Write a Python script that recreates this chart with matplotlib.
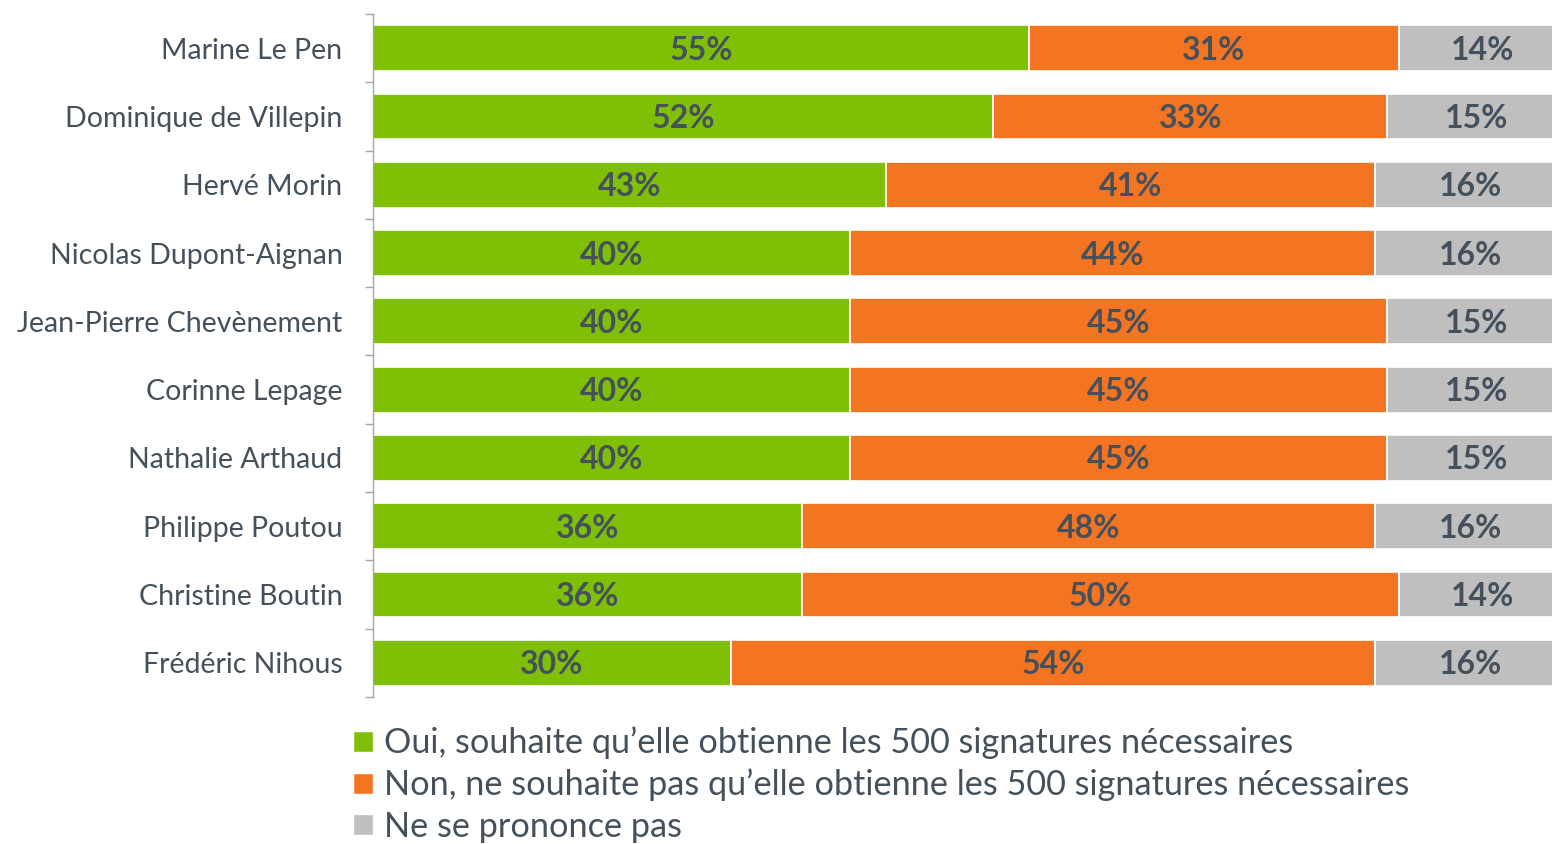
import numpy as np
import matplotlib
matplotlib.use("Agg")
import matplotlib.pyplot as plt
from matplotlib.patches import Patch

candidates = ["Marine Le Pen", "Dominique de Villepin", "Hervé Morin",
              "Nicolas Dupont-Aignan", "Jean-Pierre Chevènement", "Corinne Lepage",
              "Nathalie Arthaud", "Philippe Poutou", "Christine Boutin", "Frédéric Nihous"]
oui = [55, 52, 43, 40, 40, 40, 40, 36, 36, 30]
non = [31, 33, 41, 44, 45, 45, 45, 48, 50, 54]
nsp = [14, 15, 16, 16, 15, 15, 15, 16, 14, 16]
series_labels = ["Oui, souhaite qu\u2019elle obtienne les 500 signatures nécessaires",
                 "Non, ne souhaite pas qu\u2019elle obtienne les 500 signatures nécessaires",
                 "Ne se prononce pas"]
colors = ["#7fbf06", "#f47521", "#bfbfbf"]
TXT = "#44505c"

plt.rcParams["font.family"] = ["Lato", "DejaVu Sans"]

fig = plt.figure(figsize=(15.52, 8.44), dpi=100)
# the 100% end sits slightly past the right edge of the picture (cropped)
ax = fig.add_axes([0.2403, 0.1742, 0.7687, 0.8092])

y = np.arange(len(candidates))
left = np.zeros(len(candidates))
for vals, c in zip([oui, non, nsp], colors):
    vals = np.array(vals, dtype=float)
    ax.barh(y, vals, left=left, height=0.67, color=c, edgecolor="white", linewidth=1.2)
    for yi, l, v in zip(y, left, vals):
        ax.text(l + v / 2, yi + 0.03, f"{int(v)}%", ha="center", va="center",
                fontsize=23, fontweight="bold", color=TXT)
    left += vals

ax.set_xlim(0, 100)
ax.set_ylim(len(candidates) - 0.5, -0.5)
ax.set_yticks(y)
ax.set_yticklabels(candidates, fontsize=20.5, color=TXT)
ax.tick_params(axis="y", which="major", length=0, pad=22)
ax.set_yticks(np.arange(-0.5, len(candidates)), minor=True)
ax.tick_params(axis="y", which="minor", length=6, width=1, color="#a6a6a6", direction="out")
ax.set_xticks([])
for s in ["top", "right", "bottom"]:
    ax.spines[s].set_visible(False)
ax.spines["left"].set_color("#a6a6a6")
ax.spines["left"].set_linewidth(1)

handles = [Patch(facecolor=c, edgecolor="white") for c in colors]
fig.legend(handles, series_labels, loc="upper left", bbox_to_anchor=(0.2274, 0.139),
           frameon=False, fontsize=24.7, handlelength=0.58, handleheight=0.58,
           handletextpad=0.33, labelspacing=0.27, borderpad=0, borderaxespad=0,
           labelcolor=TXT)

fig.savefig("out.png", dpi=100)
